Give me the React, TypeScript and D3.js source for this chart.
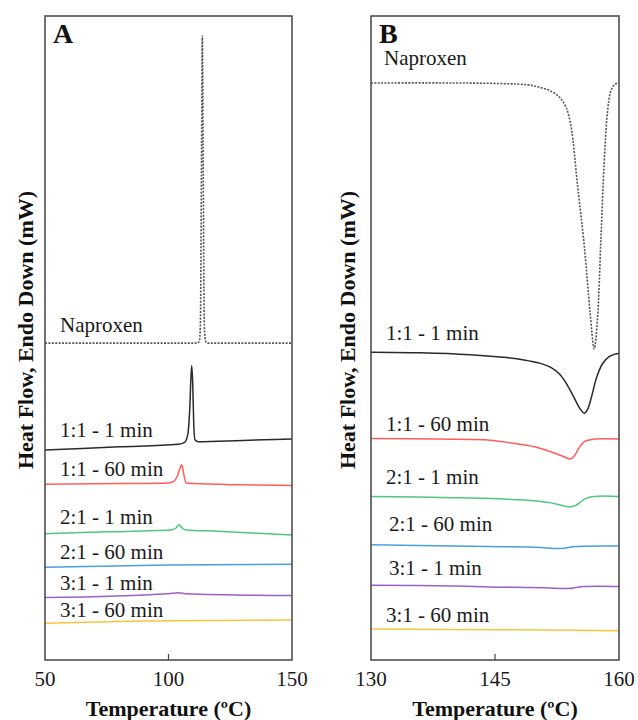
import React from "react";
import * as d3 from "d3";

// Temperature / heat-flow readings (arbitrary units, 0-100 over the plot height)
const naproxenA = [[50, 49.2], [100, 49.2], [111.5, 49.2], [112.5, 49.5], [112.9, 52], [113.4, 80], [113.7, 96.9], [114.0, 80], [114.5, 52], [115.0, 49.5], [116, 49.2], [150, 49.2]];
const r11m1A = [[50, 32.6], [80, 33.1], [104, 33.5], [106.5, 33.8], [107.8, 35], [108.6, 39], [109.1, 44], [109.4, 45.7], [109.8, 43], [110.2, 37], [110.7, 34.2], [112, 33.9], [130, 34.1], [150, 34.3]];
const r11m60A = [[50, 27.3], [80, 27.4], [100, 27.5], [102, 27.7], [103.5, 28.5], [104.6, 29.7], [105.3, 30.3], [105.9, 29.5], [106.5, 28.2], [107.2, 27.5], [110, 27.4], [130, 27.2], [150, 27.1]];
const r21m1A = [[50, 19.6], [75, 19.9], [95, 20.1], [101, 20.2], [103, 20.5], [104.3, 21.0], [105.5, 20.5], [107, 20.2], [120, 20.0], [150, 19.4]];
const r21m60A = [[50, 14.4], [100, 14.75], [150, 14.85]];
const r31m1A = [[50, 9.7], [100, 10.3], [104, 10.45], [107, 10.3], [150, 10.0]];
const r31m60A = [[50, 5.7], [100, 6.1], [150, 6.2]];

const naproxenB = [[130, 89.6], [140, 89.6], [146, 89.5], [149, 89.3], [150.5, 88.9], [151.8, 88.3], [152.8, 87.4], [153.6, 85.8], [154.2, 82.8], [155.0, 73.5], [155.8, 64.3], [156.5, 54], [157.0, 48.3], [157.4, 53], [157.8, 65], [158.2, 77], [158.6, 85], [159.0, 88.3], [159.5, 89.4], [160, 89.6]];
const r11m1B = [[130, 47.8], [136, 47.7], [142, 47.4], [146, 47.0], [148.5, 46.6], [150.4, 46.1], [151.8, 45.4], [152.8, 44.4], [153.6, 43.0], [154.3, 41.4], [154.9, 39.9], [155.4, 38.8], [155.8, 38.3], [156.2, 38.9], [156.7, 41.0], [157.3, 43.9], [158.0, 46.0], [158.8, 47.1], [159.5, 47.5], [160, 47.6]];
const r11m60B = [[130, 34.4], [138, 34.3], [143.8, 34.2], [147, 33.7], [149.8, 33.1], [151.8, 32.3], [153.3, 31.6], [154.1, 31.2], [154.6, 31.7], [155.1, 32.8], [155.8, 33.9], [157, 34.3], [160, 34.3]];
const r21m1B = [[130, 25.4], [140, 25.2], [146, 25.0], [150, 24.7], [151.8, 24.4], [153.4, 23.9], [154.2, 23.8], [154.8, 24.0], [155.4, 24.6], [156, 25.1], [157, 25.4], [160, 25.4]];
const r21m60B = [[130, 17.9], [140, 17.7], [146, 17.6], [150, 17.5], [152.6, 17.3], [153.6, 17.4], [154.4, 17.6], [160, 17.7]];
const r31m1B = [[130, 11.6], [140, 11.5], [146, 11.3], [151, 11.2], [153.8, 11.1], [155.8, 11.4], [160, 11.4]];
const r31m60B = [[130, 4.8], [145, 4.7], [160, 4.55]];

const sampleNames = ["Naproxen", "1:1 - 1 min", "1:1 - 60 min", "2:1 - 1 min", "2:1 - 60 min", "3:1 - 1 min", "3:1 - 60 min"];
const colors = ["#555", "#2a2a2a", "#ff5c5c", "#4cc97e", "#4a9fe0", "#9b5fc9", "#f5c542"];

const ticksA = [50, 100, 150];
const ticksB = [130, 145, 160];

// label placement [x, baseline] per sample
const labelPosA = [[60, 332], [60, 437], [60, 476], [60, 524], [60, 559], [60, 590], [60, 617]];
const labelPosB = [[384, 65], [386, 340], [386, 431], [386, 484], [389, 531], [389, 575], [386, 622]];

const top = 16;
const bottom = 660;
const serif = "'Liberation Serif', 'Times New Roman', serif";

const Panel = ({ left, right, domain, ticks, series, labelPos, letter, yLabelX, curve }) => {
  const x = d3.scaleLinear().domain(domain).range([left, right]);
  const y = d3.scaleLinear().domain([0, 100]).range([bottom, top]);
  const line = d3.line().x((d) => x(d[0])).y((d) => y(d[1])).curve(curve);
  const midY = (top + bottom) / 2 - 8;

  return (
    <g>
      {series.map((s, i) => (
        <path key={i} d={line(s)} fill="none" stroke={colors[i]}
          strokeWidth={i === 0 ? 1.6 : 1.5}
          strokeDasharray={i === 0 ? "2 1.4" : null} />
      ))}
      <rect x={left} y={top} width={right - left} height={bottom - top}
        fill="none" stroke="#444" strokeWidth={1.5} />
      {ticks.map((t, i) => (
        <g key={t}>
          {i > 0 && i < ticks.length - 1 &&
            <line x1={x(t)} x2={x(t)} y1={bottom} y2={bottom - 6} stroke="#444" strokeWidth={1.2} />}
          <text x={x(t)} y={686} textAnchor="middle" fontFamily={serif} fontSize={21} fill="#1a1a1a">{t}</text>
        </g>
      ))}
      {sampleNames.map((n, i) => (
        <text key={n} x={labelPos[i][0]} y={labelPos[i][1]} fontFamily={serif} fontSize={21} fill="#1a1a1a">{n}</text>
      ))}
      <text x={left + 8} y={43} fontFamily={serif} fontSize={28} fontWeight="bold" fill="#111">{letter}</text>
      <text x={(left + right) / 2} y={716} textAnchor="middle" fontFamily={serif} fontSize={22} fontWeight="bold" fill="#111">
        Temperature (ºC)
      </text>
      <text transform={`translate(${yLabelX},${midY}) rotate(-90)`} textAnchor="middle"
        fontFamily={serif} fontSize={22} fontWeight="bold" fill="#111">
        Heat Flow, Endo Down (mW)
      </text>
    </g>
  );
};

export default function App() {
  return (
    <svg width={638} height={720} style={{ position: "absolute", left: 0, top: 0, background: "#fff" }}>
      <Panel left={45} right={292} domain={[50, 150]} ticks={ticksA} letter="A" yLabelX={33}
        curve={d3.curveMonotoneX}
        series={[naproxenA, r11m1A, r11m60A, r21m1A, r21m60A, r31m1A, r31m60A]} labelPos={labelPosA} />
      <Panel left={371} right={619} domain={[130, 160]} ticks={ticksB} letter="B" yLabelX={355}
        curve={d3.curveCatmullRom.alpha(0.5)}
        series={[naproxenB, r11m1B, r11m60B, r21m1B, r21m60B, r31m1B, r31m60B]} labelPos={labelPosB} />
    </svg>
  );
}
